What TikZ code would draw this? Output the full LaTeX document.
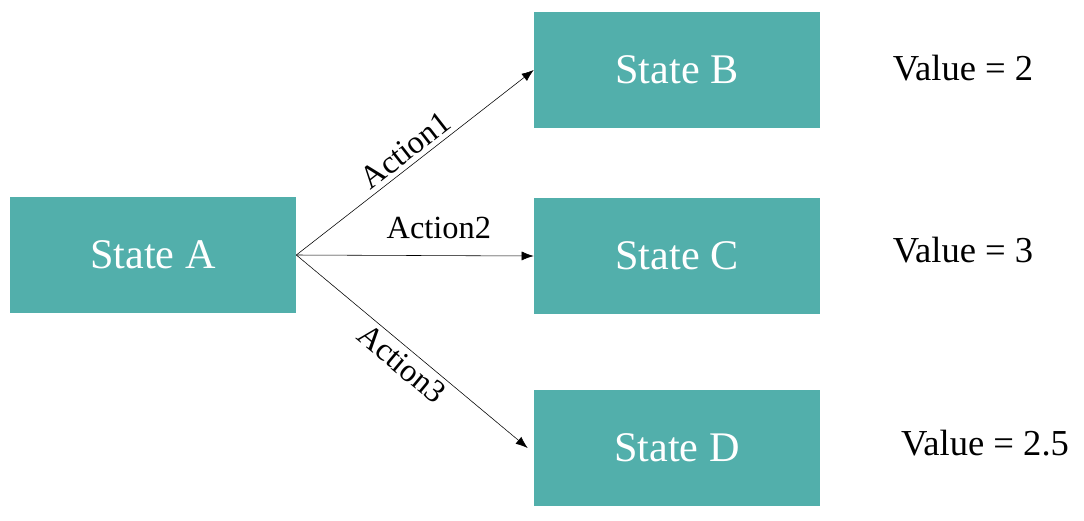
\documentclass[tikz,border=0pt]{standalone}
\usepackage{fontspec}
\setmainfont{Liberation Serif}
\usetikzlibrary{arrows.meta, positioning}

\tikzset{
  state/.style = {fill=stateteal, text=white, minimum width=7.15cm, minimum height=2.9cm, font=\fontsize{30}{32}\selectfont},
  act/.style   = {font=\fontsize{23}{25}\selectfont, sloped, above},
  val/.style   = {font=\fontsize{26}{28}\selectfont}
}
\definecolor{stateteal}{HTML}{52AFAB}

\begin{document}
\begin{tikzpicture}[x=0.025cm, y=-0.025cm]

\useasboundingbox (0,0) rectangle (1084,520);

\node [state] (a) at (153,255) {State A};
\node [state] (b) at (677,70)  {State B};
\node [state] (c) at (677,256) {State C};
\node [state] (d) at (677,448) {State D};

\node [val] (vb) at (963,68)  {Value = 2};
\node [val] (vc) at (963,250) {Value = 3};
\node [val] (vd) at (985,443) {Value = 2.5};

\draw [-{Latex[length=3mm]}] (a.east) -- node [act, pos=0.5] {Action1} (b.west);
\draw [-{Latex[length=3mm]}] (a.east) -- node [act, pos=0.6, yshift=0.3cm] {Action2} (c.west);
\draw [-{Latex[length=3mm]}] (a.east) -- node [act, below, pos=0.5] {Action3} ([xshift=-0.15cm]d.west);

\end{tikzpicture}
\end{document}
